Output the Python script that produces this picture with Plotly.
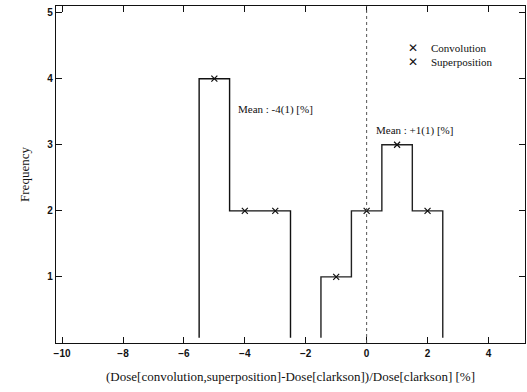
import plotly.graph_objects as go

# Data
conv_centers = [-5, -4, -3]
conv_freq = [4, 2, 2]
sup_centers = [-1, 0, 1, 2]
sup_freq = [1, 2, 3, 2]
bin_width = 1.0
x_ticks = [-10, -8, -6, -4, -2, 0, 2, 4]
y_ticks = [1, 2, 3, 4, 5]
series_names = ["Convolution", "Superposition"]
mean_labels = ["Mean : -4(1) [%]", "Mean : +1(1) [%]"]


def step_xy(centers, freqs, w):
    left = [c - w / 2 for c in centers]
    xs = [left[0]] + left + [centers[-1] + w / 2]
    ys = [0.08] + list(freqs) + [0.08]
    return xs, ys


fig = go.Figure()

for centers, freqs, col, name in [(conv_centers, conv_freq, "#111", series_names[0]),
                                  (sup_centers, sup_freq, "#222", series_names[1])]:
    xs, ys = step_xy(centers, freqs, bin_width)
    fig.add_trace(go.Scatter(x=xs, y=ys, mode="lines", line=dict(color=col, width=1.4, shape="hv"),
                             showlegend=False, hoverinfo="skip"))
    fig.add_trace(go.Scatter(x=centers, y=freqs, mode="markers", name=name,
                             marker=dict(symbol="x-thin", size=6, line=dict(color="#111", width=1.2)),
                             showlegend=False))

# legend drawn as annotations
for i, name in enumerate(series_names):
    yp = 0.875 - i * 0.041
    fig.add_annotation(xref="paper", yref="paper", x=0.761, y=yp, text="<b>✕</b>", showarrow=False,
                       xanchor="center", yanchor="middle",
                       font=dict(family="DejaVu Sans", size=12, color="#111"))
    fig.add_annotation(xref="paper", yref="paper", x=0.795, y=yp, text=name, showarrow=False,
                       xanchor="left", yanchor="middle",
                       font=dict(family="Liberation Serif", size=11, color="#111"))

fig.add_shape(type="line", x0=0, x1=0, y0=0, y1=1, yref="paper", xref="x",
              line=dict(color="#555", width=1, dash="dot"))

fig.add_annotation(x=-4.28, y=3.53, text=mean_labels[0], showarrow=False, xanchor="left",
                   font=dict(family="Liberation Serif", size=11, color="#111"))
fig.add_annotation(x=0.25, y=3.21, text=mean_labels[1], showarrow=False, xanchor="left",
                   font=dict(family="Liberation Serif", size=11, color="#111"))

axis_common = dict(showline=True, linecolor="#111", linewidth=1.2, mirror="ticks", ticks="inside",
                   ticklen=6, tickcolor="#111", showgrid=False, zeroline=False, automargin=False,
                   tickfont=dict(family="Liberation Sans", size=10, color="#111", weight="bold"))

fig.update_xaxes(range=[-10.2, 5.2], tickvals=x_ticks, ticklabelstandoff=1,
                 title=dict(text="(Dose[convolution,superposition]-Dose[clarkson])/Dose[clarkson] [%]",
                            font=dict(family="Liberation Serif", size=13, color="#111"), standoff=13),
                 **axis_common)
fig.update_yaxes(range=[0, 5.1], tickvals=y_ticks,
                 title=dict(text="Frequency", font=dict(family="Liberation Serif", size=13, color="#111"),
                            standoff=14),
                 **axis_common)

fig.update_layout(width=527, height=392, margin=dict(l=56, r=2, t=6, b=49),
                  plot_bgcolor="white", paper_bgcolor="white", showlegend=False)

fig.write_html("out.html", post_script="document.body.style.margin='0';",
               config={"displayModeBar": False})
